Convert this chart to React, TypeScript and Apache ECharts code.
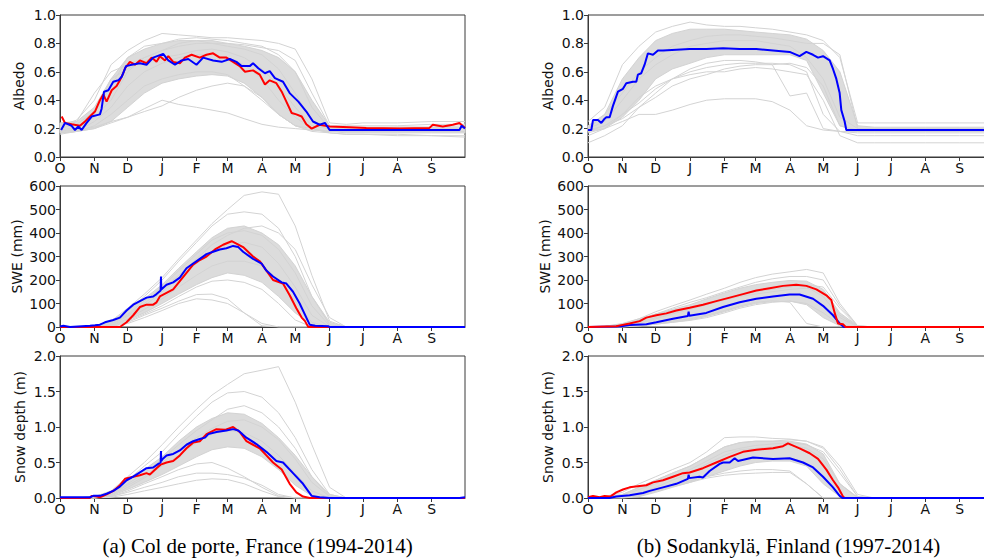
import React, { useEffect, useRef } from 'react';
import * as echarts from 'echarts';

// ---------- axis ticks ----------
const MONTH_STARTS = [0, 31, 61, 92, 123, 151, 182, 212, 243, 273, 304, 335];
const MONTH_LABELS = ['O', 'N', 'D', 'J', 'F', 'M', 'A', 'M', 'J', 'J', 'A', 'S'];
// knot days (days since 1 October) at which the grey ensemble members are sampled
const KNOT_DAYS = [0, 15, 31, 46, 61, 76, 92, 107, 123, 137, 151, 166, 182, 197, 212, 227, 243, 258, 273, 304, 335, 365];

// ---------- Col de porte : albedo ----------
const colAlbedoBandLo = [0.17, 0.18, 0.2, 0.25, 0.35, 0.45, 0.52, 0.55, 0.57, 0.58, 0.57, 0.52, 0.42, 0.3, 0.22, 0.2, 0.18, 0.17, 0.17, 0.17, 0.17, 0.17];
const colAlbedoBandHi = [0.24, 0.25, 0.35, 0.55, 0.7, 0.76, 0.8, 0.82, 0.82, 0.82, 0.8, 0.78, 0.75, 0.7, 0.6, 0.4, 0.22, 0.21, 0.21, 0.21, 0.21, 0.21];
const colAlbedoMembers = [
  [0.22, 0.26, 0.4, 0.65, 0.75, 0.82, 0.87, 0.86, 0.85, 0.84, 0.84, 0.83, 0.82, 0.8, 0.76, 0.55, 0.24, 0.23, 0.24, 0.24, 0.25, 0.25],
  [0.2, 0.23, 0.32, 0.5, 0.7, 0.78, 0.8, 0.83, 0.84, 0.83, 0.82, 0.8, 0.78, 0.72, 0.6, 0.35, 0.2, 0.2, 0.2, 0.21, 0.21, 0.22],
  [0.18, 0.2, 0.28, 0.4, 0.6, 0.7, 0.75, 0.78, 0.8, 0.8, 0.78, 0.76, 0.72, 0.62, 0.45, 0.25, 0.19, 0.18, 0.18, 0.18, 0.18, 0.18],
  [0.16, 0.18, 0.25, 0.35, 0.5, 0.6, 0.66, 0.7, 0.72, 0.72, 0.7, 0.65, 0.55, 0.4, 0.28, 0.2, 0.17, 0.16, 0.16, 0.16, 0.15, 0.15],
  [0.19, 0.21, 0.3, 0.55, 0.62, 0.68, 0.7, 0.72, 0.75, 0.76, 0.74, 0.7, 0.62, 0.5, 0.35, 0.22, 0.2, 0.2, 0.2, 0.2, 0.2, 0.2],
  [0.17, 0.18, 0.22, 0.3, 0.4, 0.5, 0.55, 0.58, 0.6, 0.6, 0.58, 0.5, 0.4, 0.3, 0.22, 0.18, 0.17, 0.16, 0.16, 0.15, 0.15, 0.14],
  [0.18, 0.19, 0.21, 0.25, 0.28, 0.32, 0.36, 0.42, 0.47, 0.5, 0.52, 0.5, 0.42, 0.3, 0.22, 0.19, 0.18, 0.18, 0.18, 0.18, 0.18, 0.18],
  [0.17, 0.18, 0.2, 0.24, 0.28, 0.34, 0.4, 0.37, 0.35, 0.33, 0.31, 0.27, 0.23, 0.21, 0.2, 0.19, 0.18, 0.18, 0.18, 0.18, 0.18, 0.18],
  [0.2, 0.25, 0.45, 0.6, 0.65, 0.7, 0.75, 0.8, 0.82, 0.8, 0.8, 0.79, 0.77, 0.75, 0.68, 0.45, 0.22, 0.22, 0.22, 0.22, 0.23, 0.23],
];
const colAlbedoObs = [
  [1.5, 0.285], [4.5, 0.24], [10.5, 0.23], [18, 0.22], [22.5, 0.25], [27, 0.285], [31.5, 0.32], [36, 0.4], [39, 0.44], [42, 0.39],
  [46.6, 0.47], [51, 0.5], [54, 0.54], [57, 0.59], [58.6, 0.625], [63, 0.67], [67.6, 0.65], [72, 0.68], [78, 0.66], [82.6, 0.7],
  [87, 0.67], [90, 0.71], [94.6, 0.68], [97.6, 0.71], [102, 0.67], [108, 0.66], [112.6, 0.7], [118.6, 0.72], [126, 0.7], [132, 0.72],
  [138, 0.73], [144, 0.7], [150, 0.7], [156, 0.67], [162, 0.64], [166.7, 0.6], [174, 0.61], [180, 0.58], [184.7, 0.51], [189, 0.54],
  [195, 0.52], [199.8, 0.46], [204, 0.39], [208.8, 0.31], [213, 0.3], [217.8, 0.285], [222, 0.23], [226.8, 0.2], [234, 0.227],
  [243, 0.215], [261, 0.21], [276, 0.205], [306, 0.2], [333, 0.205], [336, 0.227], [345, 0.215], [354, 0.227], [360, 0.24], [365, 0.205],
];
const colAlbedoSim = [
  [1, 0.19], [4.5, 0.24], [10.5, 0.22], [13.5, 0.19], [16.5, 0.215], [19.5, 0.19], [24, 0.24], [28.5, 0.285], [36, 0.3], [37.5, 0.34],
  [39.7, 0.46], [43.6, 0.47], [48, 0.53], [52.6, 0.54], [55.6, 0.565], [59.5, 0.64], [64.6, 0.65], [72, 0.66], [78, 0.65], [84, 0.7],
  [93, 0.726], [97.6, 0.68], [103.6, 0.65], [109.6, 0.68], [115.6, 0.69], [123, 0.65], [129, 0.7], [138, 0.68], [145.7, 0.67],
  [153, 0.69], [159, 0.67], [163.7, 0.64], [171, 0.64], [174, 0.66], [178.7, 0.625], [184.7, 0.59], [189, 0.605], [193.7, 0.555],
  [201, 0.53], [207, 0.45], [214.8, 0.39], [222, 0.32], [228, 0.25], [234, 0.227], [238.8, 0.24], [243, 0.19], [306, 0.19],
  [360, 0.19], [362, 0.22], [365, 0.2],
];

// ---------- Col de porte : SWE (mm) ----------
const colSweBandLo = [0, 0, 0, 5, 30, 60, 100, 140, 180, 210, 230, 220, 190, 130, 60, 10, 0, 0, 0, 0, 0, 0];
const colSweBandHi = [0, 0, 5, 25, 70, 120, 180, 250, 320, 380, 420, 430, 400, 350, 260, 130, 20, 0, 0, 0, 0, 0];
const colSweMembers = [
  [0, 0, 5, 25, 80, 140, 210, 290, 370, 440, 500, 560, 575, 565, 430, 220, 25, 0, 0, 0, 0, 0],
  [0, 0, 5, 20, 70, 130, 200, 280, 360, 430, 480, 490, 480, 420, 300, 130, 10, 0, 0, 0, 0, 0],
  [0, 0, 3, 15, 55, 110, 170, 240, 310, 370, 400, 410, 390, 330, 230, 90, 5, 0, 0, 0, 0, 0],
  [0, 0, 2, 10, 45, 90, 150, 210, 270, 320, 350, 360, 340, 270, 170, 50, 0, 0, 0, 0, 0, 0],
  [0, 0, 0, 8, 35, 75, 120, 170, 220, 260, 280, 280, 260, 200, 110, 20, 0, 0, 0, 0, 0, 0],
  [0, 0, 0, 5, 25, 55, 90, 130, 170, 195, 200, 190, 160, 100, 30, 0, 0, 0, 0, 0, 0, 0],
  [0, 0, 0, 3, 20, 50, 80, 110, 138, 140, 120, 60, 5, 0, 0, 0, 0, 0, 0, 0, 0, 0],
  [0, 0, 0, 2, 15, 40, 70, 100, 120, 115, 100, 60, 15, 0, 0, 0, 0, 0, 0, 0, 0, 0],
  [0, 0, 2, 12, 50, 100, 160, 220, 290, 350, 390, 420, 430, 400, 330, 180, 40, 0, 0, 0, 0, 0],
];
const colSweObs = [
  [0, 0], [54, 0], [60, 20], [66, 50], [72, 85], [78, 95], [84, 95], [87, 105], [90, 130], [96, 145], [102, 160], [108, 195],
  [114, 230], [120, 265], [126, 285], [132, 300], [139.7, 330], [147, 350], [154.7, 365], [159, 355], [165, 340], [174, 300],
  [180, 280], [186, 240], [192, 200], [201, 185], [207, 135], [213, 80], [217.8, 40], [220.8, 25], [223.8, 0], [365, 0],
];
const colSweSim = [
  [0, 2], [3, 5], [9, 0], [27, 5], [31.5, 7], [36, 10], [40.5, 20], [48, 30], [54, 40], [60, 70], [66, 95], [72, 110], [78, 125],
  [84, 130], [87, 140], [90.7, 155], [91, 215], [91.3, 160], [96, 180], [102, 190], [108, 210], [114, 250], [120, 270], [126, 290],
  [132, 310], [138, 320], [144, 330], [150, 335], [156, 345], [160.7, 340], [165, 320], [174, 290], [181.7, 270], [186, 240],
  [192, 215], [199.8, 190], [204, 185], [210, 150], [216, 100], [222, 40], [225, 10], [230, 5], [242, 3], [243, 0], [365, 0],
];

// ---------- Col de porte : snow depth (m) ----------
const colDepthBandLo = [0, 0, 0, 0.03, 0.12, 0.22, 0.33, 0.45, 0.58, 0.68, 0.72, 0.7, 0.58, 0.4, 0.18, 0.03, 0, 0, 0, 0, 0, 0];
const colDepthBandHi = [0, 0, 0.02, 0.08, 0.25, 0.4, 0.58, 0.8, 1.0, 1.12, 1.2, 1.18, 1.05, 0.85, 0.6, 0.3, 0.05, 0, 0, 0, 0, 0];
const colDepthMembers = [
  [0, 0, 0.02, 0.1, 0.3, 0.5, 0.75, 1.0, 1.25, 1.45, 1.6, 1.75, 1.8, 1.85, 1.35, 0.75, 0.15, 0, 0, 0, 0, 0],
  [0, 0, 0.02, 0.08, 0.25, 0.45, 0.65, 0.9, 1.15, 1.35, 1.48, 1.5, 1.42, 1.2, 0.85, 0.4, 0.05, 0, 0, 0, 0, 0],
  [0, 0, 0.01, 0.06, 0.2, 0.35, 0.55, 0.75, 0.95, 1.1, 1.25, 1.3, 1.2, 1.0, 0.7, 0.3, 0.02, 0, 0, 0, 0, 0],
  [0, 0, 0, 0.04, 0.15, 0.28, 0.45, 0.6, 0.78, 0.9, 0.95, 0.92, 0.8, 0.6, 0.35, 0.1, 0, 0, 0, 0, 0, 0],
  [0, 0, 0, 0.02, 0.1, 0.2, 0.3, 0.4, 0.48, 0.5, 0.42, 0.3, 0.15, 0.03, 0, 0, 0, 0, 0, 0, 0, 0],
  [0, 0, 0, 0.02, 0.08, 0.15, 0.22, 0.3, 0.35, 0.35, 0.33, 0.28, 0.18, 0.05, 0, 0, 0, 0, 0, 0, 0, 0],
  [0, 0, 0, 0.01, 0.05, 0.1, 0.15, 0.2, 0.25, 0.27, 0.26, 0.2, 0.1, 0.02, 0, 0, 0, 0, 0, 0, 0, 0],
  [0, 0, 0.01, 0.05, 0.18, 0.3, 0.5, 0.68, 0.85, 0.98, 1.08, 1.1, 1.0, 0.82, 0.55, 0.22, 0.02, 0, 0, 0, 0, 0],
];
const colDepthObs = [
  [0, 0], [27, 0], [28.5, 0.03], [33, 0.02], [36, 0.01], [42, 0.05], [48, 0.1], [54, 0.18], [58.6, 0.27], [66, 0.3], [72, 0.32],
  [78, 0.35], [81, 0.33], [87, 0.42], [90.7, 0.47], [96, 0.5], [102, 0.52], [108, 0.6], [114, 0.7], [120, 0.78], [126, 0.8],
  [132, 0.9], [141, 0.97], [148.7, 0.96], [156, 1.0], [162, 0.93], [168, 0.8], [174, 0.75], [180, 0.7], [186, 0.6], [192, 0.5],
  [199.8, 0.4], [207, 0.2], [213, 0.08], [219, 0.02], [225, 0], [365, 0],
];
const colDepthSim = [
  [0, 0.01], [27, 0.01], [30, 0.03], [36, 0.03], [42, 0.06], [48, 0.1], [54, 0.16], [60, 0.25], [66, 0.3], [72, 0.36], [78, 0.42],
  [84, 0.43], [88.6, 0.48], [90.7, 0.5], [91, 0.66], [91.3, 0.52], [92.5, 0.55], [96, 0.6], [102, 0.62], [108, 0.67], [114, 0.75],
  [120, 0.8], [126, 0.83], [130.7, 0.85], [133.7, 0.9], [141, 0.93], [150, 0.95], [156, 0.97], [160.7, 0.95], [168, 0.85],
  [177, 0.76], [186, 0.65], [195, 0.52], [201, 0.5], [210, 0.35], [219, 0.2], [226.8, 0.03], [234, 0.01], [243, 0], [360, 0], [365, 0.01],
];

// ---------- Sodankylä : albedo ----------
const sodAlbedoBandLo = [0.18, 0.2, 0.28, 0.4, 0.55, 0.62, 0.66, 0.7, 0.72, 0.72, 0.72, 0.72, 0.72, 0.68, 0.45, 0.22, 0.18, 0.18, 0.18, 0.18, 0.18, 0.18];
const sodAlbedoBandHi = [0.22, 0.3, 0.55, 0.7, 0.82, 0.87, 0.9, 0.9, 0.9, 0.89, 0.88, 0.87, 0.86, 0.83, 0.75, 0.6, 0.22, 0.21, 0.21, 0.21, 0.21, 0.21];
const sodAlbedoMembers = [
  [0.25, 0.35, 0.65, 0.78, 0.88, 0.92, 0.95, 0.93, 0.92, 0.92, 0.91, 0.9, 0.88, 0.86, 0.82, 0.7, 0.24, 0.24, 0.24, 0.24, 0.24, 0.24],
  [0.2, 0.3, 0.45, 0.6, 0.7, 0.78, 0.82, 0.85, 0.86, 0.86, 0.85, 0.84, 0.82, 0.8, 0.8, 0.72, 0.2, 0.2, 0.2, 0.2, 0.2, 0.2],
  [0.15, 0.2, 0.3, 0.42, 0.5, 0.55, 0.6, 0.63, 0.65, 0.66, 0.66, 0.66, 0.65, 0.6, 0.3, 0.18, 0.15, 0.15, 0.15, 0.15, 0.15, 0.15],
  [0.18, 0.22, 0.3, 0.38, 0.48, 0.55, 0.62, 0.66, 0.68, 0.68, 0.67, 0.65, 0.43, 0.45, 0.2, 0.18, 0.18, 0.18, 0.18, 0.18, 0.18, 0.18],
  [0.17, 0.2, 0.25, 0.3, 0.3, 0.33, 0.37, 0.4, 0.41, 0.41, 0.41, 0.39, 0.33, 0.22, 0.19, 0.18, 0.17, 0.17, 0.17, 0.17, 0.17, 0.17],
  [0.1, 0.15, 0.22, 0.35, 0.45, 0.55, 0.58, 0.6, 0.6, 0.62, 0.63, 0.62, 0.6, 0.58, 0.4, 0.15, 0.1, 0.1, 0.1, 0.1, 0.1, 0.1],
  [0.2, 0.25, 0.4, 0.55, 0.65, 0.72, 0.78, 0.8, 0.82, 0.82, 0.82, 0.8, 0.78, 0.7, 0.55, 0.28, 0.2, 0.2, 0.2, 0.2, 0.2, 0.2],
  [0.19, 0.22, 0.27, 0.35, 0.42, 0.5, 0.55, 0.58, 0.62, 0.64, 0.65, 0.65, 0.66, 0.63, 0.5, 0.22, 0.19, 0.19, 0.19, 0.19, 0.19, 0.19],
];
const sodAlbedoSim = [
  [0, 0.19], [3, 0.19], [4.5, 0.26], [9, 0.26], [12, 0.24], [15, 0.27], [16.5, 0.28], [19.5, 0.28], [22.5, 0.36], [27, 0.46],
  [31.5, 0.48], [34.5, 0.52], [40.5, 0.53], [43.5, 0.53], [45, 0.58], [48, 0.59], [51, 0.65], [54, 0.73], [58.6, 0.72], [63, 0.75],
  [67.6, 0.75], [91.6, 0.76], [106.6, 0.76], [121.7, 0.765], [136.7, 0.76], [151.7, 0.76], [166.7, 0.75], [181.7, 0.74],
  [190.7, 0.71], [196.8, 0.74], [202.8, 0.72], [207.3, 0.7], [211.8, 0.71], [217.8, 0.68], [220.8, 0.62], [223.8, 0.55],
  [226.8, 0.45], [228.3, 0.33], [231.3, 0.25], [232.8, 0.19], [365, 0.19],
];

// ---------- Sodankylä : SWE (mm) ----------
const sodSweBandLo = [0, 0, 0, 5, 12, 20, 30, 45, 65, 85, 100, 108, 110, 95, 40, 5, 0, 0, 0, 0, 0, 0];
const sodSweBandHi = [0, 2, 10, 30, 55, 75, 95, 120, 145, 165, 180, 190, 198, 195, 160, 60, 5, 0, 0, 0, 0, 0];
const sodSweMembers = [
  [0, 2, 12, 35, 65, 90, 115, 140, 165, 190, 210, 225, 235, 245, 230, 100, 5, 0, 0, 0, 0, 0],
  [0, 2, 10, 30, 55, 80, 105, 125, 150, 170, 190, 205, 215, 215, 200, 90, 5, 0, 0, 0, 0, 0],
  [0, 0, 2, 8, 15, 25, 35, 50, 70, 90, 105, 112, 105, 15, 0, 0, 0, 0, 0, 0, 0, 0],
  [0, 0, 1, 5, 12, 20, 28, 40, 60, 80, 95, 105, 110, 100, 60, 10, 0, 0, 0, 0, 0, 0],
  [0, 1, 6, 20, 40, 60, 80, 100, 120, 140, 155, 165, 175, 170, 130, 40, 0, 0, 0, 0, 0, 0],
  [0, 0, 5, 15, 35, 55, 75, 95, 115, 135, 150, 160, 170, 180, 170, 80, 3, 0, 0, 0, 0, 0],
  [0, 3, 15, 35, 55, 70, 85, 100, 115, 130, 140, 150, 160, 165, 150, 50, 2, 0, 0, 0, 0, 0],
];
const sodSweObs = [
  [0, 0], [25.5, 3], [30, 8], [37.5, 15], [46.6, 25], [52.6, 40], [61.6, 50], [70.6, 58], [79.6, 70], [91.6, 82], [103.6, 95],
  [115.6, 110], [127.7, 125], [139.7, 140], [151.7, 155], [163.7, 165], [175.7, 175], [187.7, 180], [196.8, 175], [205.8, 160],
  [214.8, 135], [219.3, 115], [222.3, 60], [225.3, 15], [229.8, 12], [232.2, 0], [365, 0],
];
const sodSweSim = [
  [0, 0], [25.5, 2], [30, 3], [37.5, 8], [52.6, 12], [61.6, 20], [76.6, 35], [90, 47], [90.7, 65], [91.3, 48], [106.6, 60],
  [121.7, 85], [136.7, 105], [151.7, 120], [166.7, 130], [181.7, 138], [190.7, 138], [202.8, 120], [211.8, 90], [220.8, 50],
  [226.8, 15], [229.8, 3], [231, 0], [365, 0],
];

// ---------- Sodankylä : snow depth (m) ----------
const sodDepthBandLo = [0, 0, 0, 0.02, 0.08, 0.15, 0.22, 0.3, 0.38, 0.45, 0.5, 0.52, 0.52, 0.45, 0.2, 0.02, 0, 0, 0, 0, 0, 0];
const sodDepthBandHi = [0, 0.01, 0.05, 0.15, 0.25, 0.35, 0.45, 0.58, 0.72, 0.78, 0.8, 0.8, 0.8, 0.76, 0.62, 0.2, 0.01, 0, 0, 0, 0, 0];
const sodDepthMembers = [
  [0, 0.02, 0.08, 0.2, 0.3, 0.4, 0.5, 0.65, 0.85, 0.86, 0.86, 0.84, 0.83, 0.8, 0.7, 0.4, 0.02, 0, 0, 0, 0, 0],
  [0, 0.01, 0.05, 0.15, 0.25, 0.35, 0.45, 0.58, 0.72, 0.78, 0.8, 0.8, 0.82, 0.8, 0.72, 0.45, 0.05, 0, 0, 0, 0, 0],
  [0, 0, 0.02, 0.06, 0.12, 0.18, 0.24, 0.3, 0.35, 0.38, 0.4, 0.4, 0.38, 0.2, 0, 0, 0, 0, 0, 0, 0, 0],
  [0, 0, 0.01, 0.04, 0.1, 0.16, 0.22, 0.28, 0.32, 0.34, 0.35, 0.36, 0.36, 0.2, 0, 0, 0, 0, 0, 0, 0, 0],
  [0, 0, 0.01, 0.06, 0.15, 0.25, 0.35, 0.48, 0.6, 0.68, 0.7, 0.72, 0.74, 0.7, 0.55, 0.2, 0, 0, 0, 0, 0, 0],
  [0, 0.01, 0.04, 0.12, 0.2, 0.3, 0.4, 0.52, 0.65, 0.7, 0.74, 0.76, 0.78, 0.75, 0.65, 0.35, 0.02, 0, 0, 0, 0, 0],
];
const sodDepthObs = [
  [0, 0.01], [4.5, 0.03], [10.5, 0.01], [15, 0.03], [19.5, 0.02], [21, 0.03], [25.5, 0.08], [31.5, 0.12], [37.5, 0.15],
  [46.6, 0.17], [52.6, 0.18], [58.6, 0.22], [67.6, 0.25], [76.6, 0.3], [85.6, 0.35], [91.6, 0.36], [103.6, 0.42], [115.6, 0.5],
  [127.7, 0.58], [139.7, 0.65], [151.7, 0.68], [166.7, 0.7], [175.7, 0.73], [180.2, 0.77], [190.7, 0.7], [199.8, 0.63],
  [207.3, 0.55], [214.8, 0.4], [220.8, 0.25], [225.3, 0.15], [229.8, 0.02], [231.3, 0], [365, 0],
];
const sodDepthSim = [
  [0, 0], [19.5, 0], [25.5, 0.02], [37.5, 0.04], [49.6, 0.07], [55.6, 0.1], [67.6, 0.15], [79.6, 0.2], [90, 0.27], [90.7, 0.33],
  [91.3, 0.28], [100.6, 0.3], [103.6, 0.29], [109.6, 0.38], [118.7, 0.48], [121.7, 0.5], [127.7, 0.5], [132.2, 0.56], [135.2, 0.52],
  [148.7, 0.57], [166.7, 0.55], [181.7, 0.56], [193.8, 0.5], [202.8, 0.43], [211.8, 0.3], [220.8, 0.15], [226.8, 0.03], [229.2, 0], [365, 0],
];

const CAPTIONS = ['(a) Col de porte, France (1994-2014)', '(b) Sodankylä, Finland (1997-2014)'];

const GREY = '#d3d3d3';
const BAND = '#dcdcdc';
const AXIS = '#3a3a3a';
const FONT = 'DejaVu Sans';

type Panel = {
  left: number; top: number; height: number;
  name: string; nameGap: number; min: number; max: number; interval: number; decimals: number;
  lo: number[]; hi: number[]; members: number[][]; obs: number[][]; sim: number[][]; redOnTop?: boolean;
};

export default function App() {
  const ref = useRef<HTMLDivElement>(null);

  useEffect(() => {
    if (!ref.current) return;
    const chart = echarts.init(ref.current, undefined, { renderer: 'svg' });

    const rows = [
      { top: 15, height: 142 },
      { top: 186, height: 141 },
      { top: 356, height: 142 },
    ];
    const panels: Panel[] = [
      { left: 60, ...rows[0], name: 'Albedo', nameGap: 34, min: 0, max: 1, interval: 0.2, decimals: 1, lo: colAlbedoBandLo, hi: colAlbedoBandHi, members: colAlbedoMembers, obs: colAlbedoObs, sim: colAlbedoSim },
      { left: 60, ...rows[1], name: 'SWE (mm)', nameGap: 36, min: 0, max: 600, interval: 100, decimals: 0, lo: colSweBandLo, hi: colSweBandHi, members: colSweMembers, obs: colSweObs, sim: colSweSim },
      { left: 60, ...rows[2], name: 'Snow depth (m)', nameGap: 33, min: 0, max: 2, interval: 0.5, decimals: 1, lo: colDepthBandLo, hi: colDepthBandHi, members: colDepthMembers, obs: colDepthObs, sim: colDepthSim },
      { left: 588, ...rows[0], name: 'Albedo', nameGap: 33, min: 0, max: 1, interval: 0.2, decimals: 1, lo: sodAlbedoBandLo, hi: sodAlbedoBandHi, members: sodAlbedoMembers, obs: [], sim: sodAlbedoSim },
      { left: 588, ...rows[1], name: 'SWE (mm)', nameGap: 36, min: 0, max: 600, interval: 100, decimals: 0, lo: sodSweBandLo, hi: sodSweBandHi, members: sodSweMembers, obs: sodSweObs, sim: sodSweSim, redOnTop: true },
      { left: 588, ...rows[2], name: 'Snow depth (m)', nameGap: 33, min: 0, max: 2, interval: 0.5, decimals: 1, lo: sodDepthBandLo, hi: sodDepthBandHi, members: sodDepthMembers, obs: sodDepthObs, sim: sodDepthSim },
    ];

    const grid: any[] = [];
    const xAxis: any[] = [];
    const yAxis: any[] = [];
    const series: any[] = [];

    panels.forEach((p, i) => {
      grid.push({ left: p.left, top: p.top, width: 405, height: p.height, show: true, borderColor: AXIS, borderWidth: 1, backgroundColor: 'transparent' });
      xAxis.push({
        type: 'value', gridIndex: i, min: 0, max: 365,
        axisLine: { show: true, onZero: false, lineStyle: { color: AXIS, width: 1 } },
        axisTick: { show: true, customValues: MONTH_STARTS, length: 4, lineStyle: { color: AXIS } },
        axisLabel: {
          show: true, customValues: MONTH_STARTS, margin: 4, fontSize: 14, fontFamily: FONT, color: '#111',
          formatter: (v: number) => { const k = MONTH_STARTS.indexOf(Math.round(v)); return k >= 0 ? MONTH_LABELS[k] : ''; },
        },
        splitLine: { show: false },
      });
      yAxis.push({
        type: 'value', gridIndex: i, min: p.min, max: p.max, interval: p.interval,
        axisLine: { show: true, onZero: false, lineStyle: { color: AXIS, width: 1 } },
        axisTick: { show: true, length: 4, lineStyle: { color: AXIS } },
        axisLabel: { margin: 4, fontSize: 14, fontFamily: FONT, color: '#111', formatter: (v: number) => v.toFixed(p.decimals) },
        splitLine: { show: false },
        name: p.name, nameLocation: 'middle', nameGap: p.nameGap, nameRotate: 90,
        nameTextStyle: { fontSize: 14, fontFamily: FONT, color: '#111' },
      });
      const lo = p.lo, hi = p.hi;
      series.push({
        type: 'custom', xAxisIndex: i, yAxisIndex: i, silent: true, z: 1,
        data: [[0, 0]],
        renderItem: (_params: any, api: any) => {
          const pts: number[][] = [];
          for (let k = 0; k < KNOT_DAYS.length; k++) pts.push(api.coord([KNOT_DAYS[k], hi[k]]));
          for (let k = KNOT_DAYS.length - 1; k >= 0; k--) pts.push(api.coord([KNOT_DAYS[k], lo[k]]));
          return { type: 'polygon', shape: { points: pts }, style: { fill: BAND, stroke: GREY, lineWidth: 1 } };
        },
      });
      p.members.forEach((m) => {
        series.push({
          type: 'line', xAxisIndex: i, yAxisIndex: i, silent: true, z: 2, symbol: 'none', showSymbol: false,
          lineStyle: { color: GREY, width: 1 }, data: KNOT_DAYS.map((d, k) => [d, m[k]]),
        });
      });
      const red = p.obs.length ? {
        type: 'line', xAxisIndex: i, yAxisIndex: i, silent: true, z: p.redOnTop ? 4 : 3, symbol: 'none', showSymbol: false,
        lineStyle: { color: '#ff0000', width: 2 }, data: p.obs,
      } : null;
      const blue = {
        type: 'line', xAxisIndex: i, yAxisIndex: i, silent: true, z: p.redOnTop ? 3 : 4, symbol: 'none', showSymbol: false,
        lineStyle: { color: '#0000ff', width: 2 }, data: p.sim,
      };
      if (red) series.push(red);
      series.push(blue);
    });

    chart.setOption({
      animation: false,
      backgroundColor: '#ffffff',
      grid, xAxis, yAxis, series,
      graphic: [
        { type: 'text', x: 257.5, y: 546, style: { text: CAPTIONS[0], fontSize: 21, fontFamily: 'Liberation Serif', fill: '#000', align: 'center', verticalAlign: 'middle' } },
        { type: 'text', x: 788.5, y: 546, style: { text: CAPTIONS[1], fontSize: 21, fontFamily: 'Liberation Serif', fill: '#000', align: 'center', verticalAlign: 'middle' } },
      ],
    });

    return () => chart.dispose();
  }, []);

  return (
    <div style={{ position: 'fixed', left: 0, top: 0, width: 984, height: 560, overflow: 'hidden', background: '#fff' }}>
      <div ref={ref} style={{ width: 1000, height: 560 }} />
    </div>
  );
}
